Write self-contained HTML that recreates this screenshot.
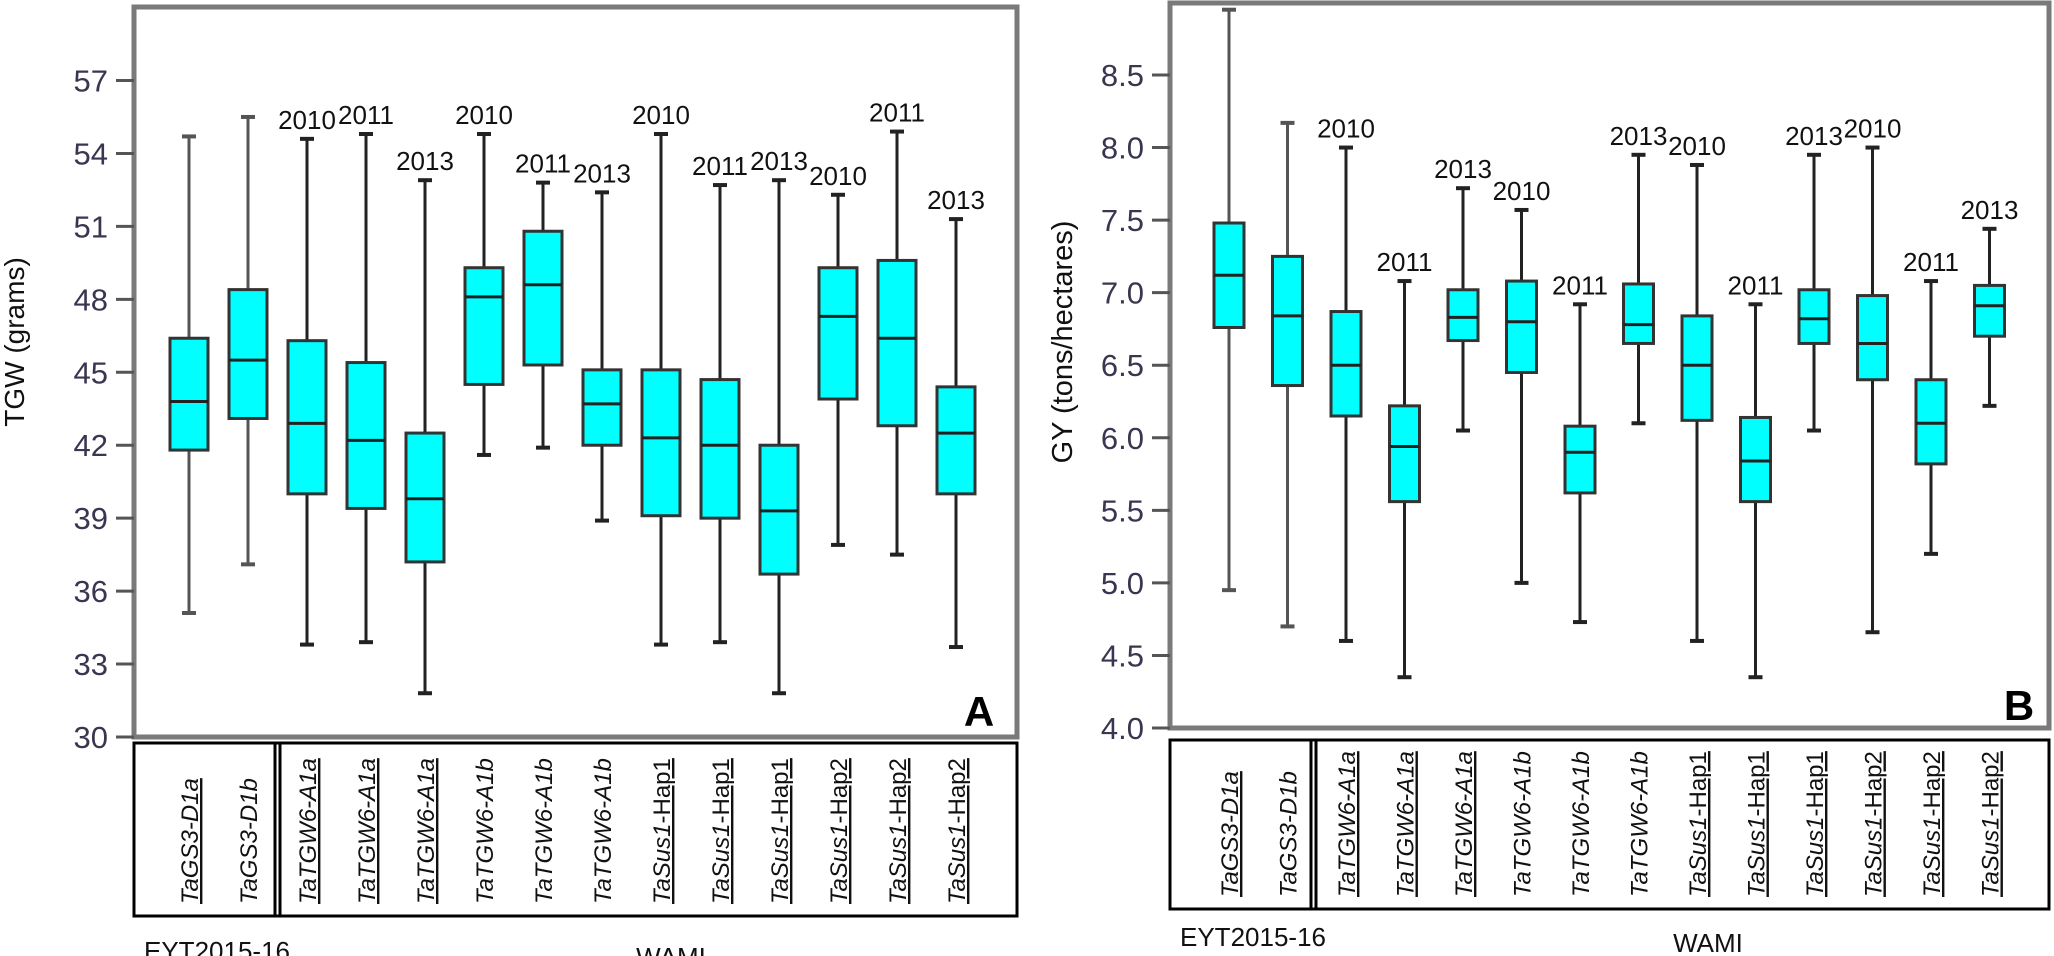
<!DOCTYPE html>
<html><head><meta charset="utf-8"><style>
html,body{margin:0;padding:0;background:#fff;}
svg{display:block;font-family:"Liberation Sans",sans-serif;}
</style></head><body>
<svg id="fig" width="2054" height="956" viewBox="0 0 2054 956" xmlns="http://www.w3.org/2000/svg"></svg>
<script>
const categories = ["TaGS3-D1a","TaGS3-D1b","TaTGW6-A1a","TaTGW6-A1a","TaTGW6-A1a","TaTGW6-A1b","TaTGW6-A1b","TaTGW6-A1b","TaSus1-Hap1","TaSus1-Hap1","TaSus1-Hap1","TaSus1-Hap2","TaSus1-Hap2","TaSus1-Hap2"];
const years = ["","","2010","2011","2013","2010","2011","2013","2010","2011","2013","2010","2011","2013"];
const underlinedA = [true,false,true,true,true,false,false,false,true,true,true,true,true,true];
const underlinedB = [true,false,true,true,true,false,false,false,true,true,true,true,true,true];
// TGW: [whisker low, q1, median, q3, whisker high]
const tgwLow = [35.1,37.1,33.8,33.9,31.8,41.6,41.9,38.9,33.8,33.9,31.8,37.9,37.5,33.7];
const tgwQ1 = [41.8,43.1,40.0,39.4,37.2,44.5,45.3,42.0,39.1,39.0,36.7,43.9,42.8,40.0];
const tgwMed = [43.8,45.5,42.9,42.2,39.8,48.1,48.6,43.7,42.3,42.0,39.3,47.3,46.4,42.5];
const tgwQ3 = [46.4,48.4,46.3,45.4,42.5,49.3,50.8,45.1,45.1,44.7,42.0,49.3,49.6,44.4];
const tgwHigh = [54.7,55.5,54.6,54.8,52.9,54.8,52.8,52.4,54.8,52.7,52.9,52.3,54.9,51.3];
const tgwTicks = [30,33,36,39,42,45,48,51,54,57];
// GY
const gyLow = [4.95,4.70,4.60,4.35,6.05,5.00,4.73,6.10,4.60,4.35,6.05,4.66,5.20,6.22];
const gyQ1 = [6.76,6.36,6.15,5.56,6.67,6.45,5.62,6.65,6.12,5.56,6.65,6.40,5.82,6.70];
const gyMed = [7.12,6.84,6.50,5.94,6.83,6.80,5.90,6.78,6.50,5.84,6.82,6.65,6.10,6.91];
const gyQ3 = [7.48,7.25,6.87,6.22,7.02,7.08,6.08,7.06,6.84,6.14,7.02,6.98,6.40,7.05];
const gyHigh = [8.95,8.17,8.00,7.08,7.72,7.57,6.92,7.95,7.88,6.92,7.95,8.00,7.08,7.44];
const gyTicks = ["4.0","4.5","5.0","5.5","6.0","6.5","7.0","7.5","8.0","8.5"];
const gyYears = ["","","2010","2011","2013","2010","2011","2013","2010","2011","2013","2010","2011","2013"];

const NS="http://www.w3.org/2000/svg";
const svg=document.getElementById('fig');
function el(tag,attrs,parent){const e=document.createElementNS(NS,tag);for(const k in attrs)e.setAttribute(k,attrs[k]);(parent||svg).appendChild(e);return e;}

function panel(o){
  const g=el('g',{});
  
  
  const y=v=>o.y0+(v-o.vmin)*(o.y1-o.y0)/(o.vmax-o.vmin);
  const x=i=>o.x0+i*o.dx;
  // frame
  const fr=el('rect',{x:o.fl,y:o.ft,width:o.fr-o.fl,height:o.fb-o.ft,fill:'none',stroke:'#7a7a7a','stroke-width':5},g);
  
  
  // ticks
  o.ticks.forEach(t=>{
    const v=parseFloat(t), yy=y(v);
    const tk=el('line',{x1:o.fl-18,x2:o.fl,y1:yy,y2:yy,stroke:'#555','stroke-width':3},g);
    
    
    const tl=el('text',{x:o.fl-26,y:yy+11,'text-anchor':'end','font-size':31,fill:'#3a3550'},g);
    tl.textContent=t;
    
    
  });
  const yt=el('text',{x:0,y:0,'text-anchor':'middle','font-size':o.titleSize,fill:'#111',transform:`translate(${o.titleX},342) rotate(-90)`},g);
  yt.textContent=o.title;
  
  
  // boxes
  for(let i=0;i<o.low.length;i++){
    const cx=x(i), w=o.bw;
    const bg=el('g',{},g);
    
    
    const col=i<2?'#555':'#222';
    el('line',{x1:cx,x2:cx,y1:y(o.low[i]),y2:y(o.high[i]),stroke:col,'stroke-width':3},bg);
    el('line',{x1:cx-7,x2:cx+7,y1:y(o.low[i]),y2:y(o.low[i]),stroke:col,'stroke-width':4},bg);
    el('line',{x1:cx-7,x2:cx+7,y1:y(o.high[i]),y2:y(o.high[i]),stroke:col,'stroke-width':4},bg);
    el('rect',{x:cx-w/2,y:y(o.q3[i]),width:w,height:y(o.q1[i])-y(o.q3[i]),fill:'#00ffff',stroke:'#333','stroke-width':3},bg);
    el('line',{x1:cx-w/2,x2:cx+w/2,y1:y(o.med[i]),y2:y(o.med[i]),stroke:'#222','stroke-width':3},bg);
    if(o.years[i]){
      const t=el('text',{x:cx,y:y(o.high[i])-10,'text-anchor':'middle','font-size':26,fill:'#111'},bg);
      t.textContent=o.years[i];
      
      
    }
    const lt=el('text',{x:0,y:0,'font-size':24,'font-style':'italic',fill:'#111',transform:`translate(${cx+9},${o.lb-12}) rotate(-90)`},g);
    const parts=categories[i].split('-');
    if(categories[i].startsWith('TaSus1')){
      lt.innerHTML='<tspan font-style="italic">TaSus1</tspan><tspan font-style="normal">-'+parts[1]+'</tspan>';
    } else lt.textContent=categories[i];
    if(o.under[i]) lt.setAttribute('text-decoration','underline');
    
    
  }
  const A=el('text',{x:o.letterX,y:o.letterY,'text-anchor':'middle','font-size':42,'font-weight':'bold',fill:'#000'},g);
  A.textContent=o.letter;
  
  
  // label box
  const lb=el('rect',{x:o.fl,y:o.lt,width:o.fr-o.fl,height:o.lb-o.lt,fill:'none',stroke:'#000','stroke-width':3},g);
  
  
  el('line',{x1:o.div,x2:o.div,y1:o.lt,y2:o.lb,stroke:'#000','stroke-width':3},g);
  el('line',{x1:o.div+5,x2:o.div+5,y1:o.lt,y2:o.lb,stroke:'#000','stroke-width':3},g);
  const e1=el('text',{x:o.fl+10,y:o.gy,'font-size':26,fill:'#111'},g);
  e1.textContent='EYT2015-16';
  
  
  const e2=el('text',{x:o.wamiX,y:o.gy+6,'text-anchor':'middle','font-size':26,fill:'#111'},g);
  e2.textContent='WAMI';
  
  
}
panel({name:'panel-a-tgw',vmin:30,vmax:57,y0:737,y1:80.5,x0:189,dx:59.0,bw:38,
  low:tgwLow,q1:tgwQ1,med:tgwMed,q3:tgwQ3,high:tgwHigh,years:years,under:underlinedA,
  ticks:tgwTicks.map(String),fl:134,fr:1017,ft:7,fb:737,title:'TGW (grams)',titleX:24,titleSize:28,
  letter:'A',letterX:979,letterY:726,lt:743,lb:916,div:275,gy:960,wamiX:671});
panel({name:'panel-b-gy',vmin:4.0,vmax:8.5,y0:728,y1:75,x0:1229,dx:58.5,bw:30,
  low:gyLow,q1:gyQ1,med:gyMed,q3:gyQ3,high:gyHigh,years:gyYears,under:underlinedB,
  ticks:gyTicks,fl:1170,fr:2049,ft:3,fb:728,title:'GY (tons/hectares)',titleX:1072,titleSize:29,
  letter:'B',letterX:2019,letterY:720,lt:740,lb:909,div:1311,gy:946,wamiX:1708});
</script>
</body></html>
